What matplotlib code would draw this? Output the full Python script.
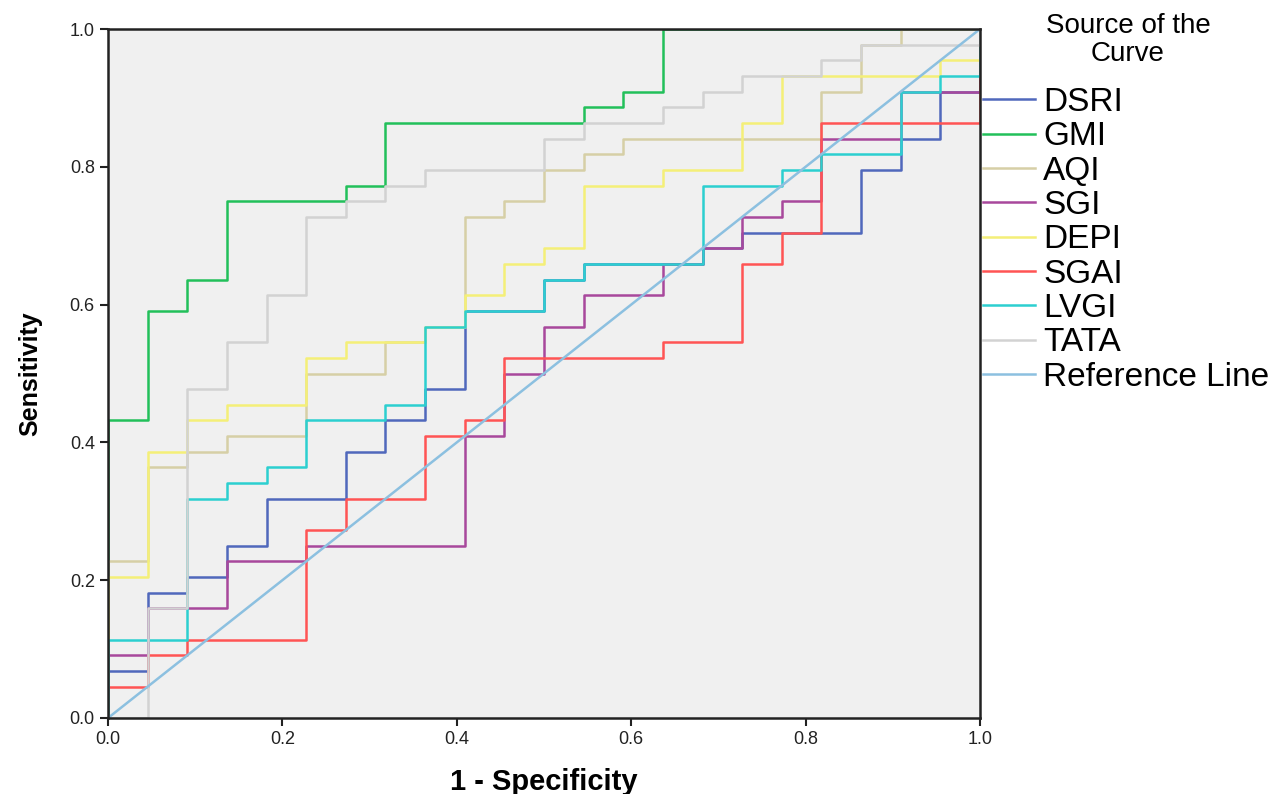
import numpy as np
import matplotlib.pyplot as plt

plt.rcParams['font.family'] = ['Liberation Sans', 'DejaVu Sans']

# ROC corner points, counted in cases: 22 negatives, 44 positives
n_neg = 22
n_pos = 44

names = ["DSRI", "GMI", "AQI", "SGI", "DEPI", "SGAI", "LVGI", "TATA"]
colors = ["#5068bc", "#22c05a", "#d6cfa6", "#a8489c", "#f4ef78",
          "#ff5454", "#2ccfd0", "#d2d2d2"]

dsri_fp = [0, 0, 1, 2, 3, 4, 6, 7, 8, 9, 11, 12, 15, 16, 19, 20, 21, 22]
dsri_tp = [0, 3, 8, 9, 11, 14, 17, 19, 21, 26, 28, 29, 30, 31, 35, 37, 40, 44]

gmi_fp = [0, 0, 1, 2, 3, 6, 7, 12, 13, 14, 22]
gmi_tp = [0, 19, 26, 28, 33, 34, 38, 39, 40, 44, 44]

aqi_fp = [0, 0, 1, 2, 3, 5, 7, 8, 9, 10, 11, 12, 13, 18, 19, 20, 22]
aqi_tp = [0, 10, 16, 17, 18, 22, 24, 25, 32, 33, 35, 36, 37, 40, 43, 44, 44]

sgi_fp = [0, 0, 1, 3, 5, 9, 10, 11, 12, 14, 15, 16, 17, 18, 20, 22]
sgi_tp = [0, 4, 7, 10, 11, 18, 22, 25, 27, 29, 30, 32, 33, 37, 40, 44]

depi_fp = [0, 0, 1, 2, 3, 5, 6, 8, 9, 10, 11, 12, 14, 16, 17, 21, 22]
depi_tp = [0, 9, 17, 19, 20, 23, 24, 25, 27, 29, 30, 34, 35, 38, 41, 42, 44]

sgai_fp = [0, 0, 1, 2, 5, 6, 8, 9, 10, 14, 16, 17, 18, 22]
sgai_tp = [0, 2, 4, 5, 12, 14, 18, 19, 23, 24, 29, 31, 38, 44]

lvgi_fp = [0, 0, 2, 3, 4, 5, 7, 8, 9, 11, 12, 15, 17, 18, 20, 21, 22]
lvgi_tp = [0, 5, 14, 15, 16, 19, 20, 25, 26, 28, 29, 34, 35, 36, 40, 41, 44]

tata_fp = [0, 1, 2, 3, 4, 5, 6, 7, 8, 11, 12, 14, 15, 16, 18, 19, 22]
tata_tp = [0, 7, 21, 24, 27, 32, 33, 34, 35, 37, 38, 39, 40, 41, 42, 43, 44]

curves_fp = [dsri_fp, gmi_fp, aqi_fp, sgi_fp, depi_fp, sgai_fp, lvgi_fp, tata_fp]
curves_tp = [dsri_tp, gmi_tp, aqi_tp, sgi_tp, depi_tp, sgai_tp, lvgi_tp, tata_tp]

W, H = 1281, 794
fig = plt.figure(figsize=(W / 100, H / 100), dpi=100)
ax = fig.add_axes([108 / W, 1 - 718 / H, 872 / W, 689 / H])
ax.set_facecolor("#f0f0f0")

for name, col, fp, tp in zip(names, colors, curves_fp, curves_tp):
    x = np.array(fp) / n_neg
    y = np.array(tp) / n_pos
    ax.step(x, y, where='post', color=col, lw=1.8, label=name)

ax.plot([0, 1], [0, 1], color="#8cc0e0", lw=1.8, label="Reference Line")

ax.set_xlim(0, 1)
ax.set_ylim(0, 1)
ticks = [0.0, 0.2, 0.4, 0.6, 0.8, 1.0]
ax.set_xticks(ticks)
ax.set_yticks(ticks)
ax.set_xticklabels([f"{t:.1f}" for t in ticks], fontsize=13)
ax.set_yticklabels([f"{t:.1f}" for t in ticks], fontsize=13)
ax.tick_params(direction='out', length=6, width=1.5, colors='#222222')
for s in ax.spines.values():
    s.set_linewidth(1.8)
    s.set_color('#222222')

ax.set_xlabel("1 - Specificity", fontsize=21, fontweight='bold', labelpad=14)
ax.set_ylabel("Sensitivity", fontsize=18, fontweight='bold', labelpad=20)

# legend title drawn separately so it sits centred above the entries
fig.text(1128 / W, 1 - 40 / H, "Source of the\nCurve", ha='center', va='center',
         multialignment='center', fontsize=20, linespacing=1.12)

ax.legend(loc='upper left', bbox_to_anchor=(983 / W, 1 - 87 / H),
          bbox_transform=fig.transFigure, frameon=False, fontsize=24,
          handlelength=1.55, handletextpad=0.25, labelspacing=0.1,
          borderaxespad=0, borderpad=0)

fig.savefig("out.png", dpi=100)
